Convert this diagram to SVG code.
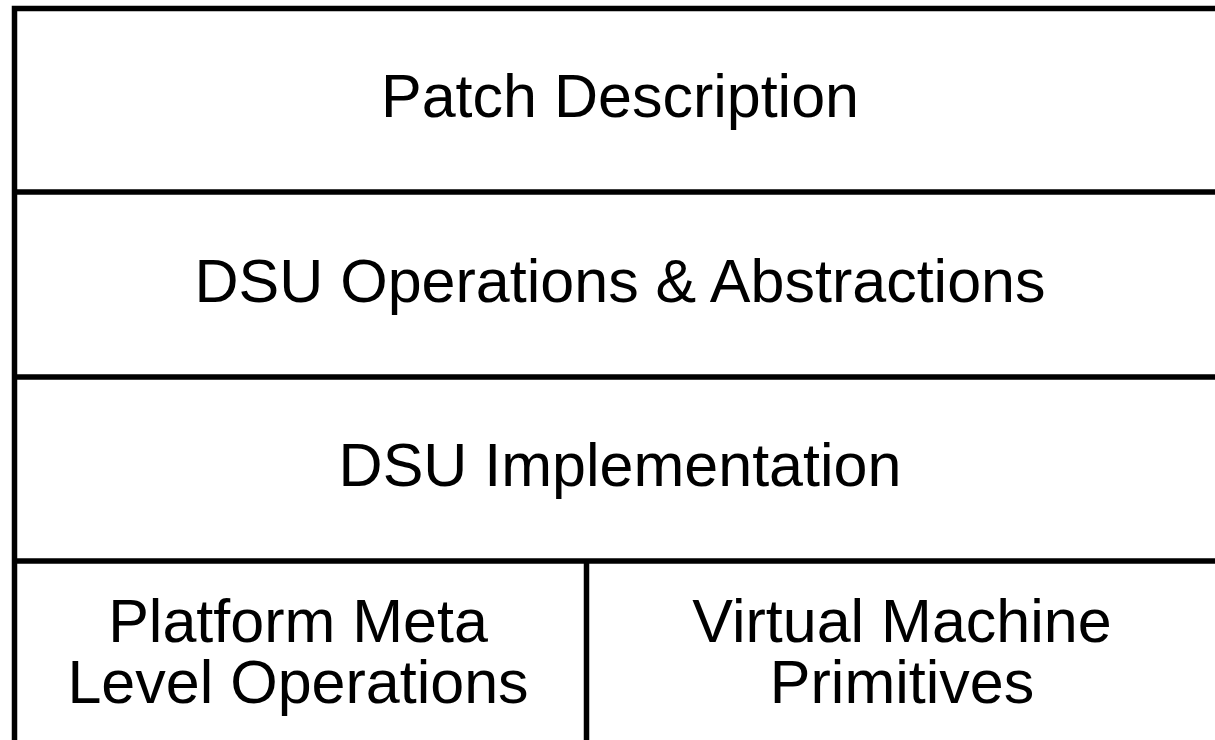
<svg xmlns="http://www.w3.org/2000/svg" width="1215" height="740" viewBox="0 0 1215 740">
<style>
.ln{stroke:#000;stroke-width:5.5;fill:none}
.t{font-family:"Liberation Sans",Arial,sans-serif;font-size:61px;fill:#000;text-anchor:middle}
</style>
<rect width="1215" height="740" fill="#fff"/>
<g id="connectors">
<path class="ln" d="M14.5,750 V8.5 H1225"/>
<path class="ln" d="M14.5,192 H1225"/>
<path class="ln" d="M14.5,377 H1225"/>
<path class="ln" d="M14.5,561 H1225"/>
<path class="ln" d="M586.5,561 V750"/>
</g>
<g id="patch"><text class="t" x="620" y="117">Patch Description</text></g>
<g id="ops"><text class="t" x="620" y="302">DSU Operations &amp; Abstractions</text></g>
<g id="impl"><text class="t" x="620" y="486">DSU Implementation</text></g>
<g id="platform"><text class="t" x="298" y="642">Platform Meta</text><text class="t" x="298" y="703">Level Operations</text></g>
<g id="vm"><text class="t" x="902" y="642">Virtual Machine</text><text class="t" x="902" y="703">Primitives</text></g>
</svg>
